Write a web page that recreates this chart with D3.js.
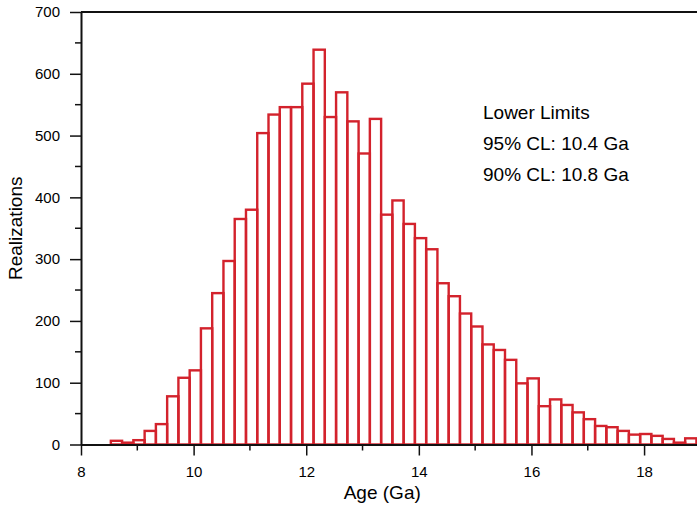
<!DOCTYPE html>
<html>
<head>
<meta charset="utf-8">
<script src="https://cdn.jsdelivr.net/npm/d3@7"></script>
<style>
  body { margin: 0; background: #fff; }
  text { font-family: "Liberation Sans", Arial, sans-serif; fill: #000; }
</style>
</head>
<body>
<div id="container"></div>
<script>
/* CONSTANTS AND GLOBALS */
const width = 697;
const height = 505;
const margin = { top: 12, right: 0, bottom: 60, left: 81 };

/* DATA */
// histogram of age realizations, bins 0.2 Ga wide
const binStart = 8.53;
const binWidth = 0.2;
const counts = [6, 3, 7, 22, 33, 78, 108, 120, 188, 245, 297, 365, 380,
  504, 534, 546, 546, 584, 639, 530, 570, 523, 471, 527, 372, 395,
  357, 334, 316, 261, 240, 212, 191, 162, 153, 137, 99, 107, 62, 73,
  64, 52, 41, 30, 28, 22, 16, 17, 14, 9, 3, 10];
const xTicks = [8, 10, 12, 14, 16, 18];
const xMinor = [9, 11, 13, 15, 17];
const yTicks = [0, 100, 200, 300, 400, 500, 600, 700];
const yMinor = [50, 150, 250, 350, 450, 550, 650];
const notes = ["Lower Limits", "95% CL: 10.4 Ga", "90% CL: 10.8 Ga"];

const bins = counts.map((c, i) => ({ x0: binStart + i * binWidth, x1: binStart + (i + 1) * binWidth, count: c }));

/* SCALES */
const svg = d3.select("#container")
  .append("svg")
  .attr("width", width)
  .attr("height", height);

const xScale = d3.scaleLinear()
  .domain([8, 18.94])
  .range([margin.left, width - margin.right]);

const yScale = d3.scaleLinear()
  .domain([0, 700])
  .range([444.5, margin.top]);

svg.append("clipPath").attr("id", "plot")
  .append("rect")
  .attr("x", margin.left).attr("y", 0)
  .attr("width", width - margin.left).attr("height", 445);

// bars
svg.append("g")
  .attr("clip-path", "url(#plot)")
  .selectAll(".bar")
  .data(bins)
  .join("rect")
  .attr("class", "bar")
  .attr("x", d => xScale(d.x0))
  .attr("y", d => yScale(d.count))
  .attr("width", d => xScale(d.x1) - xScale(d.x0))
  .attr("height", d => yScale(0) - yScale(d.count))
  .attr("fill", "none")
  .attr("stroke", "#d3222c")
  .attr("stroke-width", 2.4);

// axes
const xAxis = d3.axisBottom(xScale).tickValues(xTicks).tickFormat(d3.format("d"))
  .tickSize(11).tickPadding(9).tickSizeOuter(0);
const gx = svg.append("g")
  .attr("transform", `translate(0, ${yScale(0)})`)
  .call(xAxis);

const yAxis = d3.axisLeft(yScale).tickValues(yTicks)
  .tickSize(11).tickPadding(10).tickSizeOuter(0);
const gy = svg.append("g")
  .attr("transform", `translate(${margin.left}, 0)`)
  .call(yAxis);

[gx, gy].forEach(g => {
  g.select(".domain").attr("stroke", "#111").attr("stroke-width", 2);
  g.selectAll(".tick line").attr("stroke", "#111").attr("stroke-width", 1.5);
  g.selectAll(".tick text").style("font-size", "15px").attr("fill", "#000");
});
gx.selectAll(".tick text").attr("dy", "0.85em");

// minor ticks
svg.append("g").selectAll("line")
  .data(xMinor)
  .join("line")
  .attr("x1", d => xScale(d)).attr("x2", d => xScale(d))
  .attr("y1", yScale(0)).attr("y2", yScale(0) + 6)
  .attr("stroke", "#111").attr("stroke-width", 1.5);

svg.append("g").selectAll("line")
  .data(yMinor)
  .join("line")
  .attr("x1", margin.left - 6).attr("x2", margin.left)
  .attr("y1", d => yScale(d)).attr("y2", d => yScale(d))
  .attr("stroke", "#111").attr("stroke-width", 1.5);

// top frame line
svg.append("line")
  .attr("x1", margin.left).attr("x2", width)
  .attr("y1", yScale(700)).attr("y2", yScale(700))
  .attr("stroke", "#111").attr("stroke-width", 2);

// axis titles
svg.append("text")
  .attr("x", xScale(13.35)).attr("y", 499)
  .attr("text-anchor", "middle")
  .style("font-size", "19px")
  .text("Age (Ga)");

svg.append("text")
  .attr("transform", `translate(22, ${yScale(350)}) rotate(-90)`)
  .attr("text-anchor", "middle")
  .style("font-size", "19px")
  .text("Realizations");

// annotation
svg.append("g").selectAll("text")
  .data(notes)
  .join("text")
  .attr("x", 483)
  .attr("y", (d, i) => 119 + i * 31)
  .style("font-size", "19px")
  .text(d => d);
</script>
</body>
</html>
